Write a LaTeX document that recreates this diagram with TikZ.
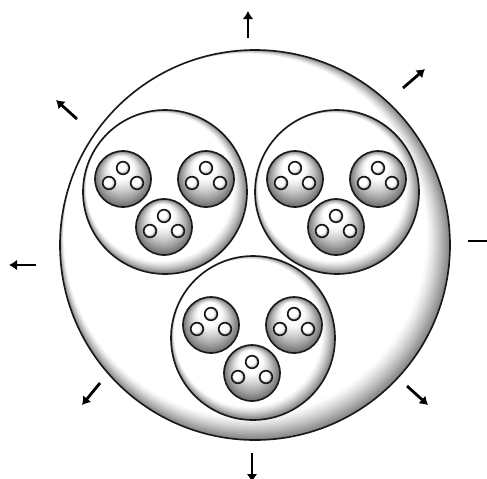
\documentclass[tikz,border=0pt]{standalone}
\usepackage{tikz}
\usetikzlibrary{arrows.meta}
\tikzset{
  lit/.style n args={5}{path picture={
    \foreach \t in {0,...,16}{
      \pgfmathsetmacro\fr{\t/16}
      \pgfmathsetmacro\rr{#1*(1-#3*\fr)}
      \pgfmathsetmacro\sx{#1*#4*\fr}
      \pgfmathsetmacro\sy{#1*#5*\fr}
      \pgfmathsetmacro\cc{#2*(1-\fr)^1.3}
      \fill[black!\cc] ([xshift=\sx mm, yshift=\sy mm]path picture bounding box.center) circle[radius=\rr mm];
    }}},
  colony/.style={circle, draw=black!90, line width=1.4pt, minimum size=117mm, inner sep=0pt, lit={58.5}{48}{0.07}{-0.05}{0.05}},
  cluster/.style={circle, draw=black!90, line width=1.4pt, minimum size=49.2mm, inner sep=0pt, lit={24.6}{50}{0.1}{-0.06}{0.06}},
  cell/.style={circle, draw=black!90, line width=1.4pt, minimum size=16.8mm, inner sep=0pt, lit={8.4}{55}{0.6}{-0.05}{0.4}},
  grain/.style={circle, draw=black!90, line width=1.4pt, minimum size=3.8mm, inner sep=0pt, lit={1.9}{40}{0.35}{-0.15}{0.15}},
  burst/.style={-{Latex[length=2.4mm, width=3.2mm]}, line width=2.4pt, black},
}

\begin{document}
\begin{tikzpicture}[x=0.3mm, y=-0.3mm]
  \useasboundingbox (0,0) rectangle (487,478);
  \node[colony] (big) at (255,245) {};
  \foreach \i/\x/\y in {1/165/192, 2/337/192, 3/253/338}
    \node[cluster] (m\i) at (\x,\y) {};
  \foreach \i in {1,2,3}
    \foreach \j/\dx/\dy in {1/-42/-13, 2/41/-13, 3/-1/35} {
      \path (m\i) ++(\dx,\dy) node[cell] (s\i\j) {};
      \foreach \k/\ex/\ey in {1/0/-11, 2/-14/4, 3/14/4}
        \path (s\i\j) ++(\ex,\ey) node[grain] (t\i\j\k) {};
    }
  % arrows pointing outwards
  \foreach \n/\ax/\ay/\bx/\by in {n/248/38/248/11, ne/403/88/425/69, e/468/241/500/241,
      w/36/265/9/265, nw/77/119/56/100, sw/100/383/82/405, se/407/386/428/405, s/252/453/252/482} {
    \coordinate (p\n) at (\ax,\ay);
    \coordinate (q\n) at (\bx,\by);
    \draw[burst] (p\n) -- (q\n);
  }
\end{tikzpicture}
\end{document}
